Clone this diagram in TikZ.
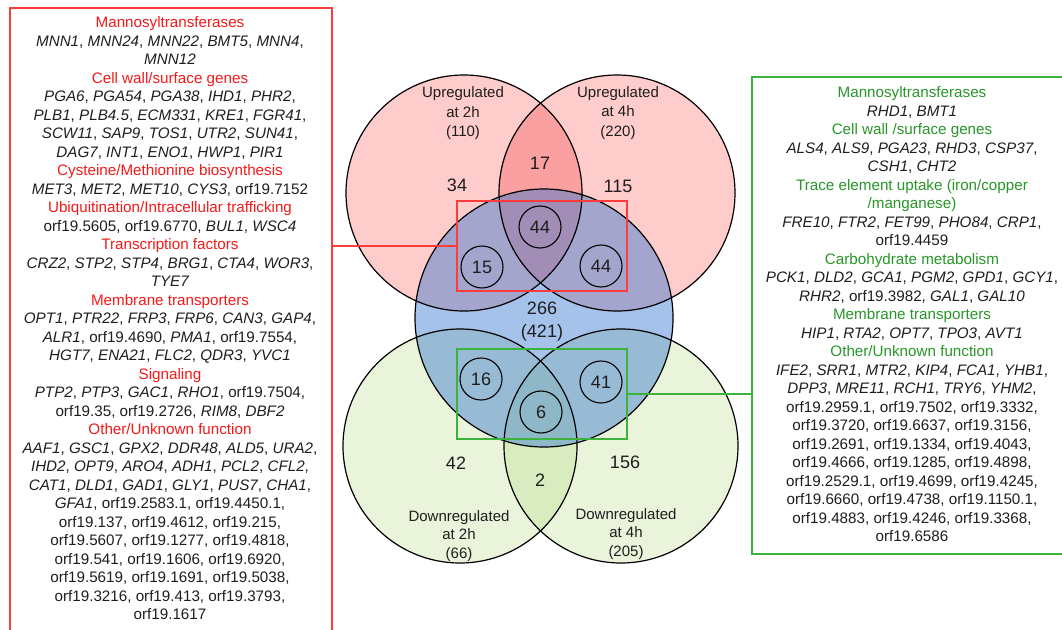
\documentclass[tikz,border=0pt]{standalone}
\usepackage{fontspec}
\setmainfont{Liberation Sans}
\definecolor{redT}{RGB}{245,25,25}
\definecolor{greenT}{RGB}{40,150,40}
\definecolor{redB}{RGB}{255,60,60}
\definecolor{greenB}{RGB}{60,180,60}
\definecolor{pinkF}{RGB}{255,204,204}
\definecolor{pinkL}{RGB}{250,160,160}
\definecolor{greenF}{RGB}{234,244,218}
\definecolor{greenL}{RGB}{216,236,192}
\definecolor{blueF}{RGB}{53,119,208}
\definecolor{txt}{RGB}{30,30,30}
\newcommand{\hr}[1]{\textcolor{redT}{#1}}
\newcommand{\hg}[1]{\textcolor{greenT}{#1}}
\newcommand{\gi}[1]{\textit{#1}}
\begin{document}
\begin{tikzpicture}[x=1pt,y=-1pt,
  txtblock/.style={align=center, inner sep=0pt, text=txt, anchor=north,
    font=\fontsize{15.2}{18.5}\selectfont},
  redbox/.style={draw=redB, line width=1.5pt, rectangle, inner sep=0pt, anchor=north west},
  greenbox/.style={draw=greenB, line width=1.5pt, rectangle, inner sep=0pt, anchor=north west},
  venn/.style={draw=black, line width=1.2pt},
  lbl/.style={align=center, inner sep=0pt, text=txt, font=\fontsize{15}{19.5}\selectfont},
  dlbl/.style={align=center, inner sep=0pt, text=txt, font=\fontsize{15}{18.5}\selectfont},
  num/.style={inner sep=0pt, text=txt, font=\fontsize{18}{23}\selectfont, align=center},
  cnum/.style={circle, draw=black, line width=1.1pt, minimum size=42pt, inner sep=0pt, text=txt, font=\fontsize{18}{20}\selectfont}
]
\useasboundingbox (0,0) rectangle (1062,629);

% Venn fills
\fill[pinkF] (464,193) circle[radius=118pt];
\fill[pinkF] (617,193) circle[radius=118pt];
\begin{scope}
  \clip (464,193) circle[radius=118pt];
  \fill[pinkL] (617,193) circle[radius=118pt];
\end{scope}
\fill[greenF] (460,446) circle[radius=117pt];
\fill[greenF] (621,446) circle[radius=117pt];
\begin{scope}
  \clip (460,446) circle[radius=117pt];
  \fill[greenL] (621,446) circle[radius=117pt];
\end{scope}
\fill[blueF, fill opacity=0.45] (544,318) circle[radius=129pt];
% Venn outlines
\draw[venn] (464,193) circle[radius=118pt];
\draw[venn] (617,193) circle[radius=118pt];
\draw[venn] (460,446) circle[radius=117pt];
\draw[venn] (621,446) circle[radius=117pt];
\draw[venn] (544,318) circle[radius=129pt];

% Venn labels
\node[lbl] (lup2) at (463,113.5) {Upregulated\\at 2h\\(110)};
\node[lbl] (lup4) at (618,113) {Upregulated\\at 4h\\(220)};
\node[dlbl] (ldn2) at (459,536) {Downregulated\\at 2h\\(66)};
\node[dlbl] (ldn4) at (626,534) {Downregulated\\at 4h\\(205)};
\node[num] (n17) at (540,163) {17};
\node[num] (n34) at (457,185) {34};
\node[num] (n115) at (618,186) {115};
\node[num] (n266) at (542,322) {266\\(421)};
\node[num] (n42) at (456,463) {42};
\node[num] (n2) at (540,480) {2};
\node[num] (n156) at (625,462) {156};
\node[cnum] (c44a) at (540,227) {44};
\node[cnum] (c15) at (482,267) {15};
\node[cnum] (c44b) at (601,266) {44};
\node[cnum] (c16) at (481,379) {16};
\node[cnum] (c41) at (601,382) {41};
\node[cnum] (c6) at (541,412) {6};

% highlight rectangles
\node[redbox, minimum width=170pt, minimum height=90pt] (redrect) at (456,200) {};
\node[greenbox, minimum width=170pt, minimum height=90pt] (greenrect) at (456,348) {};

% side boxes
\node[redbox, minimum width=322pt, minimum height=640pt] (L) at (9,7) {};
\node[greenbox, minimum width=324pt, minimum height=477pt] (R) at (751,76) {};

% connectors
\draw[draw=redB, line width=1.5pt] (redrect.west) -- (redrect.west -| L.east);
\draw[draw=greenB, line width=1.5pt] (greenrect.east) -- (greenrect.east -| R.west);

% left text
\node[txtblock] (Ltext) at (170,16.5) {%
\hr{Mannosyltransferases}\\
\gi{MNN1}, \gi{MNN24}, \gi{MNN22}, \gi{BMT5}, \gi{MNN4},\\
\gi{MNN12}\\
\hr{Cell wall/surface genes}\\
\gi{PGA6}, \gi{PGA54}, \gi{PGA38}, \gi{IHD1}, \gi{PHR2},\\
\gi{PLB1}, \gi{PLB4.5}, \gi{ECM331}, \gi{KRE1}, \gi{FGR41},\\
\gi{SCW11}, \gi{SAP9}, \gi{TOS1}, \gi{UTR2}, \gi{SUN41},\\
\gi{DAG7}, \gi{INT1}, \gi{ENO1}, \gi{HWP1}, \gi{PIR1}\\
\hr{Cysteine/Methionine biosynthesis}\\
\gi{MET3}, \gi{MET2}, \gi{MET10}, \gi{CYS3}, orf19.7152\\
\hr{Ubiquitination/Intracellular trafficking}\\
orf19.5605, orf19.6770, \gi{BUL1}, \gi{WSC4}\\
\hr{Transcription factors}\\
\gi{CRZ2}, \gi{STP2}, \gi{STP4}, \gi{BRG1}, \gi{CTA4}, \gi{WOR3},\\
\gi{TYE7}\\
\hr{Membrane transporters}\\
\gi{OPT1}, \gi{PTR22}, \gi{FRP3}, \gi{FRP6}, \gi{CAN3}, \gi{GAP4},\\
\gi{ALR1}, orf19.4690, \gi{PMA1}, orf19.7554,\\
\gi{HGT7}, \gi{ENA21}, \gi{FLC2}, \gi{QDR3}, \gi{YVC1}\\
\hr{Signaling}\\
\gi{PTP2}, \gi{PTP3}, \gi{GAC1}, \gi{RHO1}, orf19.7504,\\
orf19.35, orf19.2726, \gi{RIM8}, \gi{DBF2}\\
\hr{Other/Unknown function}\\
\gi{AAF1}, \gi{GSC1}, \gi{GPX2}, \gi{DDR48}, \gi{ALD5}, \gi{URA2},\\
\gi{IHD2}, \gi{OPT9}, \gi{ARO4}, \gi{ADH1}, \gi{PCL2}, \gi{CFL2},\\
\gi{CAT1}, \gi{DLD1}, \gi{GAD1}, \gi{GLY1}, \gi{PUS7}, \gi{CHA1},\\
\gi{GFA1}, orf19.2583.1, orf19.4450.1,\\
orf19.137, orf19.4612, orf19.215,\\
orf19.5607, orf19.1277, orf19.4818,\\
orf19.541, orf19.1606, orf19.6920,\\
orf19.5619, orf19.1691, orf19.5038,\\
orf19.3216, orf19.413, orf19.3793,\\
orf19.1617};

% right text
\node[txtblock] (Rtext) at (912,86.5) {%
\hg{Mannosyltransferases}\\
\gi{RHD1}, \gi{BMT1}\\
\hg{Cell wall /surface genes}\\
\gi{ALS4}, \gi{ALS9}, \gi{PGA23}, \gi{RHD3}, \gi{CSP37},\\
\gi{CSH1}, \gi{CHT2}\\
\hg{Trace element uptake (iron/copper}\\
\hg{/manganese)}\\
\gi{FRE10}, \gi{FTR2}, \gi{FET99}, \gi{PHO84}, \gi{CRP1},\\
orf19.4459\\
\hg{Carbohydrate metabolism}\\
\gi{PCK1}, \gi{DLD2}, \gi{GCA1}, \gi{PGM2}, \gi{GPD1}, \gi{GCY1},\\
\gi{RHR2}, orf19.3982, \gi{GAL1}, \gi{GAL10}\\
\hg{Membrane transporters}\\
\gi{HIP1}, \gi{RTA2}, \gi{OPT7}, \gi{TPO3}, \gi{AVT1}\\
\hg{Other/Unknown function}\\
\gi{IFE2}, \gi{SRR1}, \gi{MTR2}, \gi{KIP4}, \gi{FCA1}, \gi{YHB1},\\
\gi{DPP3}, \gi{MRE11}, \gi{RCH1}, \gi{TRY6}, \gi{YHM2},\\
orf19.2959.1, orf19.7502, orf19.3332,\\
orf19.3720, orf19.6637, orf19.3156,\\
orf19.2691, orf19.1334, orf19.4043,\\
orf19.4666, orf19.1285, orf19.4898,\\
orf19.2529.1, orf19.4699, orf19.4245,\\
orf19.6660, orf19.4738, orf19.1150.1,\\
orf19.4883, orf19.4246, orf19.3368,\\
orf19.6586};
\end{tikzpicture}
\end{document}
